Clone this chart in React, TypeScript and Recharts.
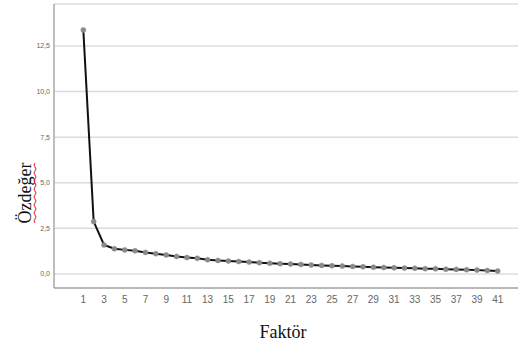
import { LineChart, Line, XAxis, YAxis, CartesianGrid } from "recharts"

const factors = Array.from({ length: 41 }, (_, i) => i + 1)
const eigenvalues = [
  13.38, 2.87, 1.59, 1.38, 1.32, 1.27, 1.18, 1.11, 1.04, 0.96,
  0.9, 0.86, 0.78, 0.74, 0.71, 0.68, 0.65, 0.62, 0.59, 0.56,
  0.54, 0.52, 0.49, 0.47, 0.45, 0.43, 0.41, 0.39, 0.37, 0.35,
  0.34, 0.32, 0.31, 0.29, 0.28, 0.26, 0.25, 0.23, 0.21, 0.19, 0.16,
]
const xTicks = factors.filter((f) => f % 2 === 1)
const yTicks = [0, 2.5, 5, 7.5, 10, 12.5]

const data = factors.map((f, i) => ({ factor: f, value: eigenvalues[i] }))

const tickFont = "'Liberation Sans Narrow', 'Liberation Sans', Arial, sans-serif"
const titleFont = "'Liberation Serif', 'Times New Roman', serif"

export default function App() {
  return (
    <div style={{ position: "absolute", left: 0, top: 0, width: 518, height: 349, background: "#fff" }}>
      <LineChart
        width={518}
        height={349}
        data={data}
        margin={{ top: 4, right: 0, left: 0, bottom: 41 }}
      >
        <CartesianGrid vertical={false} stroke="#dcdcdc" strokeWidth={1.5} />
        <XAxis
          dataKey="factor"
          type="number"
          domain={[-1.83, 42.96]}
          ticks={xTicks}
          interval={0}
          allowDataOverflow
          height={20}
          tickLine={false}
          tickSize={0}
          tickMargin={8}
          axisLine={{ stroke: "#a8a8a8", strokeWidth: 1.5 }}
          tick={{ fontSize: 10, fill: "#666", fontFamily: tickFont }}
        />
        <YAxis
          type="number"
          domain={[-0.77, 14.8]}
          ticks={yTicks}
          allowDataOverflow
          width={54}
          tickLine={false}
          tickSize={0}
          tickMargin={4}
          axisLine={{ stroke: "#a8a8a8", strokeWidth: 1.5 }}
          tick={{ fontSize: 7, fill: "#666", fontFamily: tickFont }}
          tickFormatter={(v: number) => v.toFixed(1).replace(".", ",")}
        />
        <Line
          type="linear"
          dataKey="value"
          stroke="#111"
          strokeWidth={2}
          dot={{ r: 2.5, fill: "#8a8a8a", stroke: "#8a8a8a", strokeWidth: 0.5 }}
          isAnimationActive={false}
        />
      </LineChart>
      <svg
        width={518}
        height={349}
        style={{ position: "absolute", left: 0, top: 0, pointerEvents: "none" }}
      >
        <text
          x={283}
          y={338}
          textAnchor="middle"
          fontFamily={titleFont}
          fontSize={18}
          fill="#111"
        >
          Faktör
        </text>
        <g transform="translate(31,193) rotate(-90)">
          <text x={0} y={0} textAnchor="middle" fontFamily={titleFont} fontSize={18} fill="#111">
            Özdeğer
          </text>
          <path
            d="M-30,4 q2,-2 4,0 t4,0 t4,0 t4,0 t4,0 t4,0 t4,0 t4,0 t4,0 t4,0 t4,0 t4,0 t4,0 t4,0 t4,0"
            fill="none"
            stroke="#e02020"
            strokeWidth={1}
          />
        </g>
      </svg>
    </div>
  )
}
